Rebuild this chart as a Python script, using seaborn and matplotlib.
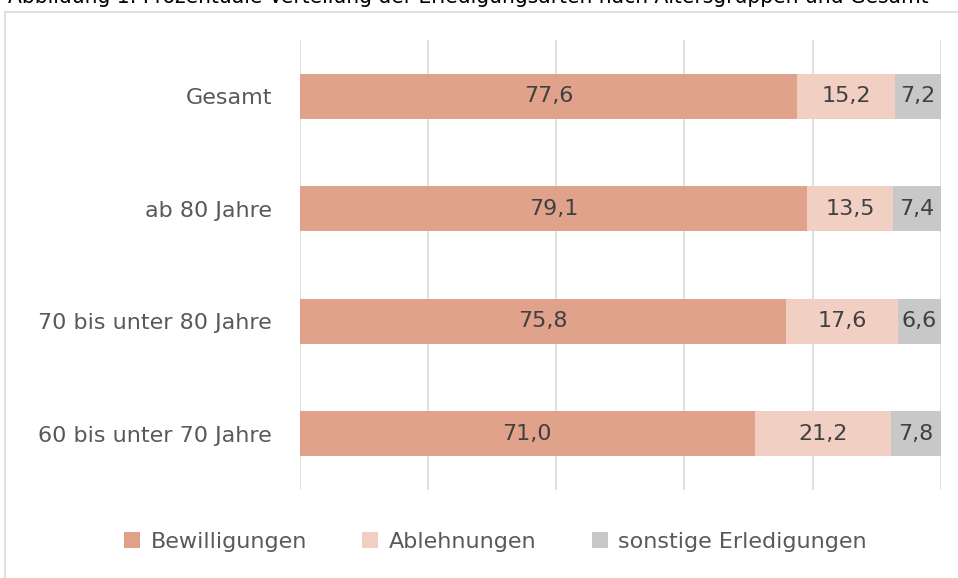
import pandas as pd
import matplotlib.pyplot as plt
import seaborn as sns
from matplotlib.patches import Rectangle, Patch

# --- data ---
groups = ["Gesamt", "ab 80 Jahre", "70 bis unter 80 Jahre", "60 bis unter 70 Jahre"]
bewilligungen = [77.6, 79.1, 75.8, 71.0]
ablehnungen = [15.2, 13.5, 17.6, 21.2]
sonstige = [7.2, 7.4, 6.6, 7.8]
series_names = ["Bewilligungen", "Ablehnungen", "sonstige Erledigungen"]
colors = ["#E0A28A", "#F2CFC3", "#C8C8C8"]

df = pd.DataFrame({
    "group": groups,
    "bew": bewilligungen,
    "abl": ablehnungen,
    "son": sonstige,
})
df["cum1"] = df["bew"]
df["cum2"] = df["bew"] + df["abl"]
df["cum3"] = df["cum2"] + df["son"]

sns.set_style("white")
plt.rcParams["font.family"] = ["DejaVu Sans"]
txt_color = "#595959"
fs = 16

fig = plt.figure(figsize=(9.58, 5.78), dpi=100)
ax = fig.add_axes([0.313, 0.152, 0.669, 0.779])

# stacked bars drawn as overlaid cumulative totals (largest first)
for col, c in zip(["cum3", "cum2", "cum1"], colors[::-1]):
    sns.barplot(data=df, x=col, y="group", order=groups, color=c,
                orient="h", width=0.4, saturation=1, linewidth=0,
                ax=ax, zorder=2)

# value labels centred in each segment
for i, row in df.iterrows():
    starts = [0, row["cum1"], row["cum2"]]
    vals = [row["bew"], row["abl"], row["son"]]
    for s, v in zip(starts, vals):
        ax.text(s + v / 2, i, f"{v:.1f}".replace(".", ","), ha="center",
                va="center", fontsize=fs, color="#404040", zorder=3)

ax.set_xlim(0, 100)
ax.set_ylim(3.5, -0.5)
ax.set_xticks(range(0, 101, 20))
ax.set_xticklabels([])
ax.xaxis.grid(True, color="#D9D9D9", linewidth=1.2)
ax.set_axisbelow(True)
ax.set_xlabel("")
ax.set_ylabel("")
ax.tick_params(axis="y", length=0, pad=20, labelsize=fs, labelcolor=txt_color)
ax.tick_params(axis="x", length=0)
for sp in ax.spines.values():
    sp.set_visible(False)

# legend
handles = [Patch(facecolor=c, edgecolor="none") for c in colors]
fig.legend(handles, series_names, loc="center", bbox_to_anchor=(0.517, 0.062),
           ncol=3, frameon=False, fontsize=fs, labelcolor=txt_color,
           handlelength=0.72, handleheight=0.72, handletextpad=0.45,
           columnspacing=2.5)

# chart border and (partly cut) caption
fig.patches.append(Rectangle((5, -20), 1000, 586, transform=None, fill=False,
                             edgecolor="#D9D9D9", linewidth=1.2))
fig.text(0.008, 1 - 3 / 578,
         "Abbildung 1: Prozentuale Verteilung der Erledigungsarten nach Altersgruppen und Gesamt",
         ha="left", va="baseline", fontsize=16.2, fontstretch="condensed",
         color="#000000")

fig.savefig("out.png", dpi=100)
